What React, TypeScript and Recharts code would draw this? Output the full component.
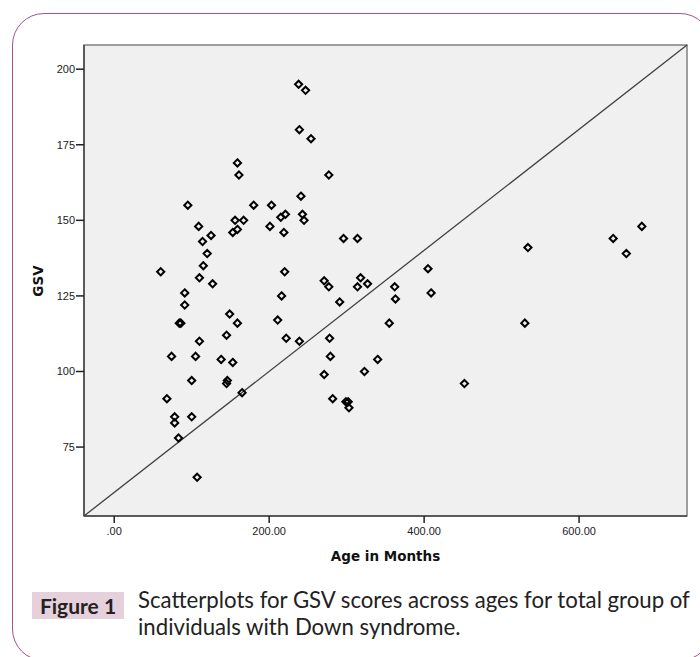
import React from 'react';
import { ScatterChart, Scatter, XAxis, YAxis, ReferenceArea, ReferenceLine } from 'recharts';

// age in months / GSV score
const ageMonths = [
  238, 247, 239, 254, 159, 161, 277, 241, 95, 180, 203, 243, 221, 215, 156, 167, 245,
  109, 201, 159, 153, 219, 125, 114, 296, 314, 120, 115, 60, 220, 110, 127, 271, 277,
  314, 318, 327, 362, 363, 91, 91, 216, 291, 84, 86, 149, 159, 211, 355, 110, 145, 222,
  239, 278, 74, 105, 279, 138, 153, 340, 323, 271, 100, 146, 145, 68, 165, 282, 299,
  302, 303, 78, 100, 78, 83, 107, 405, 409, 452, 534, 530, 644, 681, 661,
];
const gsvScores = [
  195, 193, 180, 177, 169, 165, 165, 158, 155, 155, 155, 152, 152, 151, 150, 150, 150,
  148, 148, 147, 146, 146, 145, 143, 144, 144, 139, 135, 133, 133, 131, 129, 130, 128,
  128, 131, 129, 128, 124, 126, 122, 125, 123, 116, 116, 119, 116, 117, 116, 110, 112, 111,
  110, 111, 105, 105, 105, 104, 103, 104, 100, 99, 97, 97, 96, 91, 93, 91, 90,
  90, 88, 85, 85, 83, 78, 65, 134, 126, 96, 141, 116, 144, 148, 139,
];
const xTicks = [0, 200, 400, 600];
const yTicks = [75, 100, 125, 150, 175, 200];
const xDomain: [number, number] = [-39, 739.3];
const yDomain: [number, number] = [52.2, 208];

const points = ageMonths.map((a, i) => ({ age: a, gsv: gsvScores[i] }));

const Diamond = (props: any) => {
  const { cx, cy } = props;
  const r = 3.6;
  return (
    <path
      d={`M${cx},${cy - r} L${cx + r},${cy} L${cx},${cy + r} L${cx - r},${cy} Z`}
      fill="none"
      stroke="#000"
      strokeWidth={2}
    />
  );
};

const tickFont = { fontFamily: 'Liberation Sans, Arial, sans-serif', fontSize: 11, fill: '#222' };
const titleFont: React.CSSProperties = {
  fontFamily: 'DejaVu Sans, sans-serif',
  fontWeight: 'bold',
  fontSize: 13.5,
  color: '#111',
  position: 'absolute',
  whiteSpace: 'nowrap',
};

export default function App() {
  return (
    <div style={{ position: 'absolute', left: 0, top: 0, width: 700, height: 657, overflow: 'hidden', background: '#fff' }}>
      <div
        style={{
          position: 'absolute',
          left: 12,
          top: 13,
          width: 700,
          height: 648,
          border: '1.5px solid #a9508b',
          borderRadius: 32,
          boxSizing: 'border-box',
        }}
      />
      <div style={{ position: 'absolute', left: 0, top: 0 }}>
        <ScatterChart width={700} height={560} margin={{ top: 45, right: 13, left: 0, bottom: 0 }}>
          <ReferenceArea
            x1={xDomain[0]}
            x2={xDomain[1]}
            y1={yDomain[0]}
            y2={yDomain[1]}
            ifOverflow="visible"
            fill="#f0f0f0"
            fillOpacity={1}
            stroke="#808080"
            strokeWidth={1.5}
          />
          <XAxis
            type="number"
            dataKey="age"
            domain={xDomain}
            ticks={xTicks}
            allowDataOverflow
            height={44}
            tickSize={7}
            tickMargin={4}
            tick={tickFont}
            tickFormatter={(v: number) => (v === 0 ? '.00' : v.toFixed(2))}
            axisLine={{ stroke: '#444', strokeWidth: 1.5 }}
            tickLine={{ stroke: '#222', strokeWidth: 1.5 }}
          />
          <YAxis
            type="number"
            dataKey="gsv"
            domain={yDomain}
            ticks={yTicks}
            allowDataOverflow
            width={84}
            tickSize={8}
            tickMargin={1}
            tick={tickFont}
            axisLine={{ stroke: '#444', strokeWidth: 1.5 }}
            tickLine={{ stroke: '#222', strokeWidth: 1.5 }}
          />
          <ReferenceLine
            segment={[
              { x: xDomain[0], y: yDomain[0] },
              { x: xDomain[1], y: yDomain[1] },
            ]}
            stroke="#404040"
            strokeWidth={1.3}
            ifOverflow="visible"
          />
          <Scatter data={points} shape={Diamond} isAnimationActive={false} />
        </ScatterChart>
      </div>
      <div style={{ ...titleFont, left: 37.5, top: 280.5, transform: 'translate(-50%, -50%) rotate(-90deg)' }}>GSV</div>
      <div style={{ ...titleFont, left: 385.5, top: 548, transform: 'translateX(-50%)' }}>Age in Months</div>
      <div
        style={{
          position: 'absolute',
          left: 32,
          top: 592,
          width: 92,
          height: 27,
          background: '#e6d0dc',
          fontFamily: 'Lato, sans-serif',
          fontWeight: 'bold',
          fontSize: 21,
          lineHeight: '27px',
          textAlign: 'center',
          color: '#222',
        }}
      >
        Figure 1
      </div>
      <div
        style={{
          position: 'absolute',
          left: 138,
          top: 586,
          width: 570,
          fontFamily: 'Lato, sans-serif',
          fontSize: 22.2,
          lineHeight: '27px',
          color: '#222',
          whiteSpace: 'nowrap',
        }}
      >
        Scatterplots for GSV scores across ages for total group of
        <br />
        individuals with Down syndrome.
      </div>
    </div>
  );
}
